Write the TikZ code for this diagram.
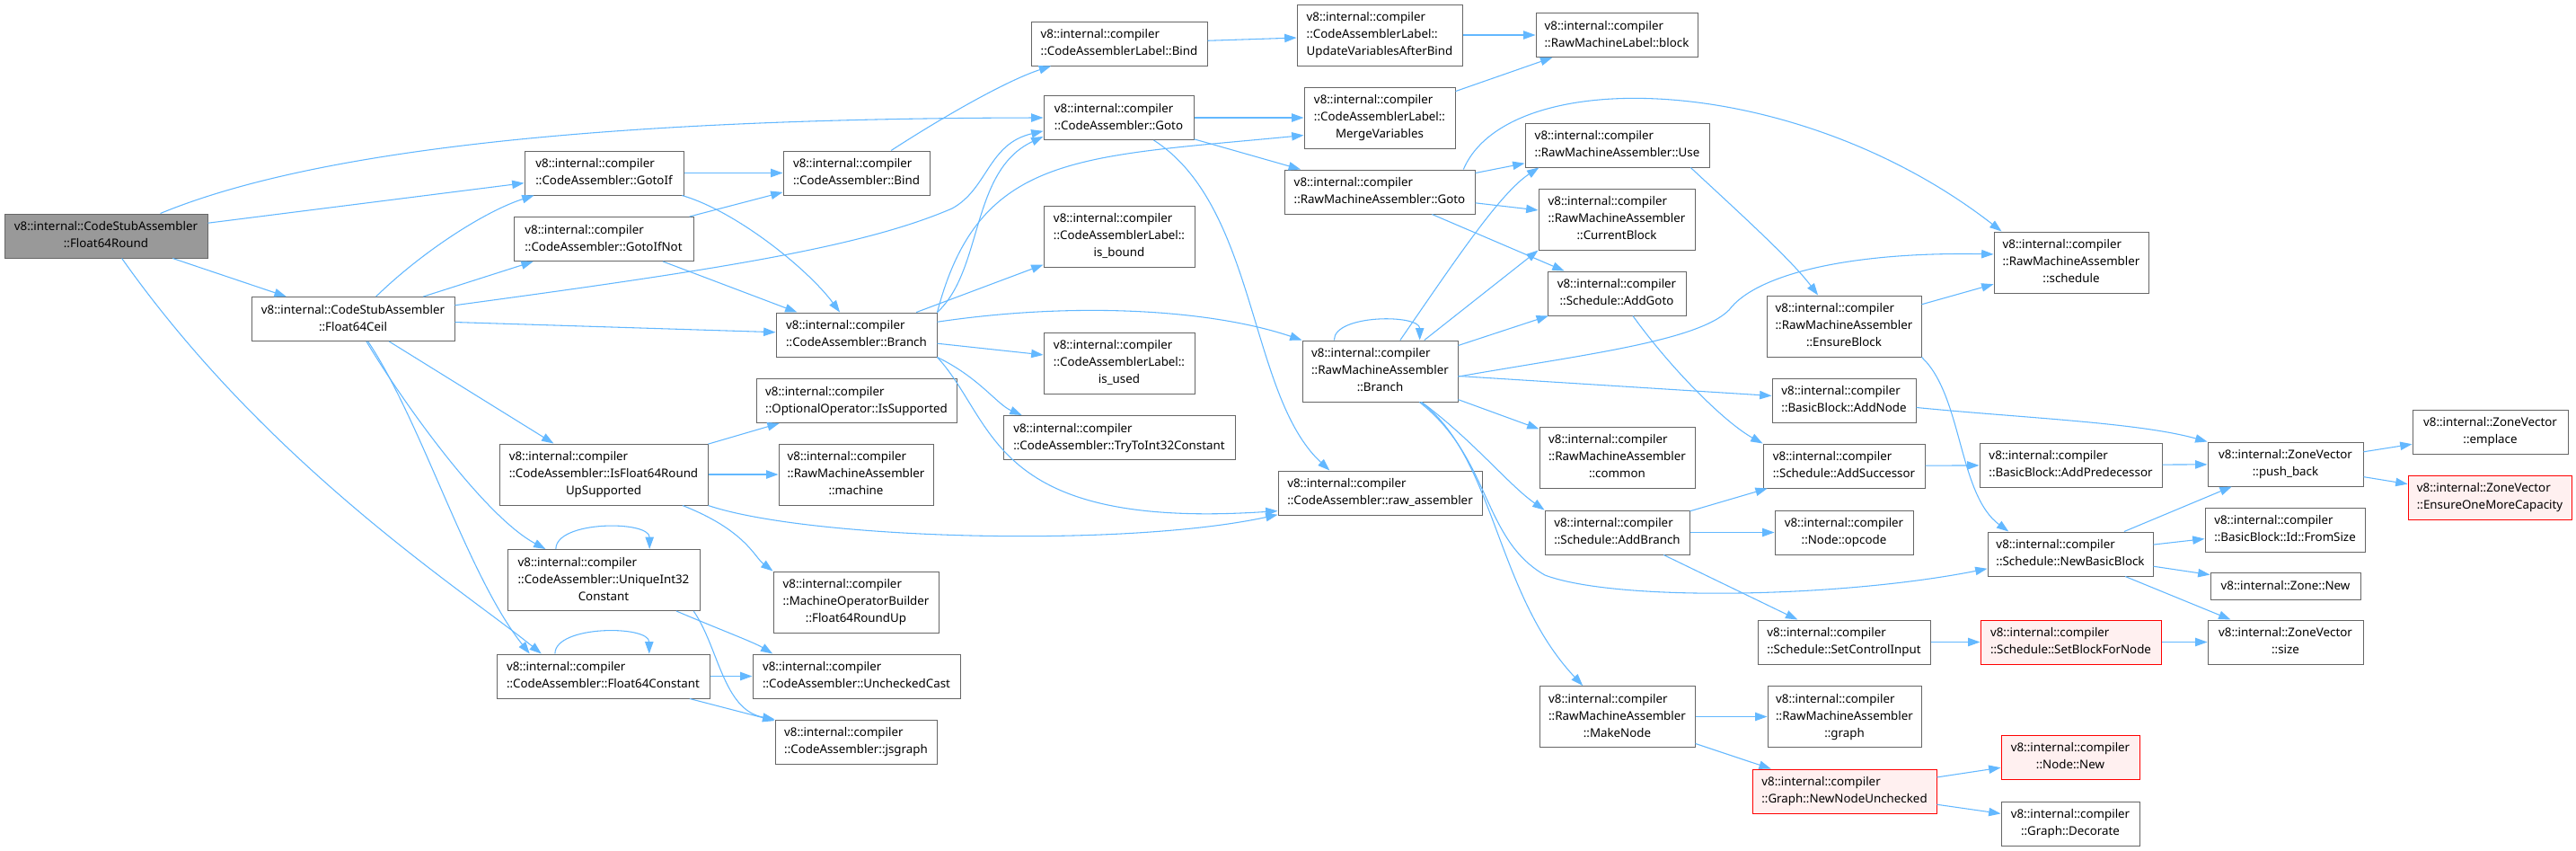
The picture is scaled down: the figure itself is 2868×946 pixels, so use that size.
\documentclass[tikz,border=0pt]{standalone}
\usepackage{fontspec}
\setmainfont{Noto Sans}
\usetikzlibrary{arrows.meta}

\definecolor{edgeblue}{HTML}{63B8FF}
\definecolor{boxgray}{HTML}{666666}
\definecolor{rootgray}{HTML}{999999}
\definecolor{alertpink}{HTML}{FFF0F0}

\newcommand{\fnlabel}[2]{\begin{tabular}{@{}l@{}}#1\\\multicolumn{1}{@{}c@{}}{#2}\end{tabular}}

\begin{document}
\begin{tikzpicture}[
        x=0.75pt, y=-0.75pt,
        font=\fontsize{10pt}{14.25pt}\selectfont,
        fn/.style={draw=boxgray, fill=white, line width=0.75pt, inner sep=3pt, minimum height=36.75pt},
        fnt/.style={fn, minimum height=51pt},
        root/.style={fn, fill=rootgray},
        alert/.style={fn, draw=red, fill=alertpink},
        call/.style={draw=edgeblue, line width=0.8pt, -{Triangle[length=10pt,width=7pt]}}
    ]
        \fill[white] (0,0) rectangle (2868,946);

        \node[root, minimum width=169.5pt] (round) at (118,262.5) {\fnlabel{v8::internal::CodeStubAssembler}{::Float64Round}};
        \node[fn, minimum width=169.5pt] (ceil) at (393,355) {\fnlabel{v8::internal::CodeStubAssembler}{::Float64Ceil}};

        \node[fn, minimum width=132.75pt] (gotoif) at (672.5,192.5) {\fnlabel{v8::internal::compiler}{::CodeAssembler::GotoIf}};
        \node[fn, minimum width=150pt] (gotoifnot) at (672,266) {\fnlabel{v8::internal::compiler}{::CodeAssembler::GotoIfNot}};
        \node[fnt, minimum width=174pt] (isfloat) at (672,528) {\fnlabel{v8::internal::compiler\\::CodeAssembler::IsFloat64Round}{UpSupported}};
        \node[fnt, minimum width=160.5pt] (uniqueint) at (672,645.5) {\fnlabel{v8::internal::compiler\\::CodeAssembler::UniqueInt32}{Constant}};
        \node[fn, minimum width=177.75pt] (f64const) at (671.5,752.5) {\fnlabel{v8::internal::compiler}{::CodeAssembler::Float64Constant}};

        \node[fn, minimum width=122.25pt] (cabind) at (953.5,192.5) {\fnlabel{v8::internal::compiler}{::CodeAssembler::Bind}};
        \node[fn, minimum width=134.25pt] (cabranch) at (953.5,372.5) {\fnlabel{v8::internal::compiler}{::CodeAssembler::Branch}};
        \node[fn, minimum width=167.25pt] (issupported) at (953.5,446) {\fnlabel{v8::internal::compiler}{::OptionalOperator::IsSupported}};
        \node[fnt, minimum width=129pt] (machine) at (953,528) {\fnlabel{v8::internal::compiler\\::RawMachineAssembler}{::machine}};
        \node[fnt, minimum width=138pt] (roundup) at (953,670) {\fnlabel{v8::internal::compiler\\::MachineOperatorBuilder}{::Float64RoundUp}};
        \node[fn, minimum width=173.25pt] (unchecked) at (953.5,752.5) {\fnlabel{v8::internal::compiler}{::CodeAssembler::UncheckedCast}};
        \node[fn, minimum width=135pt] (jsgraph) at (953,825.5) {\fnlabel{v8::internal::compiler}{::CodeAssembler::jsgraph}};

        \node[fn, minimum width=147pt] (lblbind) at (1246,48.5) {\fnlabel{v8::internal::compiler}{::CodeAssemblerLabel::Bind}};
        \node[fn, minimum width=125.25pt] (cagoto) at (1245.5,131) {\fnlabel{v8::internal::compiler}{::CodeAssembler::Goto}};
        \node[fnt, minimum width=126pt] (isbound) at (1246,263) {\fnlabel{v8::internal::compiler\\::CodeAssemblerLabel::}{is\_bound}};
        \node[fnt, minimum width=126pt] (isused) at (1246,404) {\fnlabel{v8::internal::compiler\\::CodeAssemblerLabel::}{is\_used}};
        \node[fn, minimum width=193.5pt] (tryint) at (1246,487) {\fnlabel{v8::internal::compiler}{::CodeAssembler::TryToInt32Constant}};

        \node[fnt, minimum width=138pt] (updvars) at (1536,39) {\fnlabel{v8::internal::compiler\\::CodeAssemblerLabel::}{UpdateVariablesAfterBind}};
        \node[fnt, minimum width=126pt] (mergevars) at (1536,131) {\fnlabel{v8::internal::compiler\\::CodeAssemblerLabel::}{MergeVariables}};
        \node[fn, minimum width=159pt] (rmagoto) at (1536,213.5) {\fnlabel{v8::internal::compiler}{::RawMachineAssembler::Goto}};
        \node[fnt, minimum width=129.75pt] (rmabranch) at (1536.5,413) {\fnlabel{v8::internal::compiler\\::RawMachineAssembler}{::Branch}};
        \node[fn, minimum width=170.25pt] (rawasm) at (1536.5,548.5) {\fnlabel{v8::internal::compiler}{::CodeAssembler::raw\_assembler}};

        \node[fn, minimum width=135pt] (rmlblock) at (1800,39) {\fnlabel{v8::internal::compiler}{::RawMachineLabel::block}};
        \node[fn, minimum width=153.75pt] (rmause) at (1800.5,161.5) {\fnlabel{v8::internal::compiler}{::RawMachineAssembler::Use}};
        \node[fnt, minimum width=130.5pt] (curblock) at (1800,244) {\fnlabel{v8::internal::compiler\\::RawMachineAssembler}{::CurrentBlock}};
        \node[fn, minimum width=115.5pt] (addgoto) at (1800,326.5) {\fnlabel{v8::internal::compiler}{::Schedule::AddGoto}};
        \node[fnt, minimum width=129.75pt] (common) at (1800.5,509) {\fnlabel{v8::internal::compiler\\::RawMachineAssembler}{::common}};
        \node[fn, minimum width=120.75pt] (addbranch) at (1800.5,592.5) {\fnlabel{v8::internal::compiler}{::Schedule::AddBranch}};
        \node[fnt, minimum width=129.75pt] (makenode) at (1800.5,797.5) {\fnlabel{v8::internal::compiler\\::RawMachineAssembler}{::MakeNode}};

        \node[fnt, minimum width=129pt] (ensureblock) at (2053,363) {\fnlabel{v8::internal::compiler\\::RawMachineAssembler}{::EnsureBlock}};
        \node[fn, minimum width=120pt] (addnode) at (2053,445.5) {\fnlabel{v8::internal::compiler}{::BasicBlock::AddNode}};
        \node[fn, minimum width=135pt] (addsucc) at (2053,518.5) {\fnlabel{v8::internal::compiler}{::Schedule::AddSuccessor}};
        \node[fn, minimum width=115.5pt] (opcode) at (2053,592.5) {\fnlabel{v8::internal::compiler}{::Node::opcode}};
        \node[fn, minimum width=144pt] (setctrl) at (2053,714.5) {\fnlabel{v8::internal::compiler}{::Schedule::SetControlInput}};
        \node[fnt, minimum width=128.25pt] (graph) at (2053.5,797.5) {\fnlabel{v8::internal::compiler\\::RawMachineAssembler}{::graph}};
        \node[alert, minimum width=153.75pt] (newnodeunch) at (2053.5,880.5) {\fnlabel{v8::internal::compiler}{::Graph::NewNodeUnchecked}};

        \node[fnt, minimum width=129pt] (schedule) at (2306,292) {\fnlabel{v8::internal::compiler\\::RawMachineAssembler}{::schedule}};
        \node[fn, minimum width=152.25pt] (addpred) at (2305.5,517.5) {\fnlabel{v8::internal::compiler}{::BasicBlock::AddPredecessor}};
        \node[fn, minimum width=138pt] (newbb) at (2305,616.5) {\fnlabel{v8::internal::compiler}{::Schedule::NewBasicBlock}};
        \node[alert, minimum width=150.75pt] (setblock) at (2305.5,714.5) {\fnlabel{v8::internal::compiler}{::Schedule::SetBlockForNode}};
        \node[alert, minimum width=115.5pt] (nodenew) at (2305,842.5) {\fnlabel{v8::internal::compiler}{::Node::New}};
        \node[fn, minimum width=115.5pt] (decorate) at (2305,916.5) {\fnlabel{v8::internal::compiler}{::Graph::Decorate}};

        \node[fn, minimum width=129.75pt] (pushback) at (2544.5,516.5) {\fnlabel{v8::internal::ZoneVector}{::push\_back}};
        \node[fn, minimum width=133.5pt] (fromsize) at (2544,589.5) {\fnlabel{v8::internal::compiler}{::BasicBlock::Id::FromSize}};
        \node[fn, minimum width=125.25pt, minimum height=22.5pt] (zonenew) at (2544.5,652) {v8::internal::Zone::New};
        \node[fn, minimum width=129.75pt] (zvsize) at (2544.5,714.5) {\fnlabel{v8::internal::ZoneVector}{::size}};

        \node[fn, minimum width=129.75pt] (emplace) at (2772.5,480.5) {\fnlabel{v8::internal::ZoneVector}{::emplace}};
        \node[alert, minimum width=136.5pt] (ensurecap) at (2772,553.5) {\fnlabel{v8::internal::ZoneVector}{::EnsureOneMoreCapacity}};

        \draw[call] (round) .. controls (330,175) and (620,132) .. (cagoto.west);
        \draw[call] (round) -- (gotoif);
        \draw[call] (round) -- (ceil);
        \draw[call] (round) .. controls (300,520) and (520,660) .. (f64const.160);

        \draw[call] (ceil) .. controls (470,280) and (540,235) .. (gotoif);
        \draw[call] (ceil) -- (gotoifnot);
        \draw[call] (ceil) .. controls (800,300) and (960,275) .. (1060,232) .. controls (1100,210) and (1100,160) .. (cagoto.190);
        \draw[call] (ceil) -- (cabranch);
        \draw[call] (ceil) -- (isfloat);
        \draw[call] (ceil) .. controls (450,450) and (540,575) .. (uniqueint);
        \draw[call] (ceil) .. controls (470,470) and (520,640) .. (f64const.163);

        \draw[call] (gotoif) -- (cabind);
        \draw[call] (gotoif) .. controls (820,235) and (900,300) .. (cabranch);
        \draw[call] (gotoifnot) -- (cabind);
        \draw[call] (gotoifnot) -- (cabranch);

        \draw[call] (cabind) .. controls (1050,130) and (1120,90) .. (lblbind);
        \draw[call] (lblbind) -- (updvars);
        \draw[call] (updvars) -- (rmlblock);
        \draw[call] (mergevars) -- (rmlblock);

        \draw[call] (cagoto) -- (mergevars);
        \draw[call] (cagoto) -- (rmagoto);
        \draw[call] (cagoto) .. controls (1400,230) and (1390,440) .. (rawasm.156);

        \draw[call] (cabranch.north east) .. controls (1095,300) and (1080,190) .. (cagoto.194);
        \draw[call] (cabranch.north east) .. controls (1090,170) and (1200,175) .. (mergevars.193);
        \draw[call] (cabranch) -- (isbound);
        \draw[call] (cabranch) -- (isused);
        \draw[call] (cabranch.south east) .. controls (1090,420) and (1110,450) .. (tryint.167);
        \draw[call] (cabranch.9) .. controls (1200,335) and (1350,345) .. (rmabranch.north west);
        \draw[call] (cabranch.south east) .. controls (1110,470) and (1100,590) .. (rawasm.190);

        \draw[call] (isfloat) -- (issupported);
        \draw[call] (isfloat) -- (machine);
        \draw[call] (isfloat.south east) .. controls (900,600) and (1250,610) .. (rawasm.192);
        \draw[call] (isfloat) .. controls (830,590) and (840,620) .. (roundup.north west);

        \draw[call] (uniqueint.147) .. controls +(0,-32) and +(0,-32) .. (uniqueint.34);
        \draw[call] (uniqueint) .. controls (800,700) and (840,715) .. (unchecked.165);
        \draw[call] (uniqueint.-19) .. controls (800,720) and (805,790) .. (jsgraph.north west);

        \draw[call] (f64const.155) .. controls +(0,-32) and +(0,-32) .. (f64const.26);
        \draw[call] (f64const) -- (unchecked);
        \draw[call] (f64const) -- (jsgraph);

        \draw[call] (rmagoto) -- (rmause);
        \draw[call] (rmagoto) -- (curblock);
        \draw[call] (rmagoto) -- (addgoto);
        \draw[call] (rmagoto.15) .. controls (1680,70) and (2000,80) .. (schedule.156);

        \draw[call] (rmabranch.146) .. controls +(0,-29) and +(0,-29) .. (rmabranch.38);
        \draw[call] (rmabranch.57) .. controls (1620,290) and (1670,215) .. (rmause.196);
        \draw[call] (rmabranch.35) -- (curblock.south west);
        \draw[call] (rmabranch) -- (addgoto);
        \draw[call] (rmabranch.-4) .. controls (1760,395) and (1890,380) .. (1925,345) .. controls (1955,305) and (2060,280) .. (schedule.174);
        \draw[call] (rmabranch) -- (addnode);
        \draw[call] (rmabranch) -- (common);
        \draw[call] (rmabranch) .. controls (1640,490) and (1680,540) .. (addbranch.north west);
        \draw[call] (rmabranch) .. controls (1665,510) and (1665,660) .. (makenode.138);
        \draw[call] (rmabranch) .. controls (1660,510) and (1650,600) .. (1720,640) .. controls (1800,670) and (2050,665) .. (newbb.190);

        \draw[call] (rmause.-17) .. controls (1940,240) and (1995,290) .. (ensureblock.130);
        \draw[call] (addgoto) .. controls (1860,410) and (1920,470) .. (addsucc.north west);
        \draw[call] (ensureblock) -- (schedule);
        \draw[call] (ensureblock.south east) .. controls (2185,440) and (2180,550) .. (newbb.160);
        \draw[call] (addnode) .. controls (2250,465) and (2380,470) .. (pushback.north west);

        \draw[call] (addsucc) -- (addpred);
        \draw[call] (addpred) -- (pushback);
        \draw[call] (pushback) -- (emplace);
        \draw[call] (pushback) -- (ensurecap);

        \draw[call] (addbranch) -- (addsucc);
        \draw[call] (addbranch) -- (opcode);
        \draw[call] (addbranch) -- (setctrl);

        \draw[call] (newbb) -- (pushback);
        \draw[call] (newbb) -- (fromsize);
        \draw[call] (newbb) -- (zonenew);
        \draw[call] (newbb) -- (zvsize);
        \draw[call] (setctrl) -- (setblock);
        \draw[call] (setblock) -- (zvsize);

        \draw[call] (makenode) -- (graph);
        \draw[call] (makenode.-19) -- (newnodeunch.163);
        \draw[call] (newnodeunch) -- (nodenew);
        \draw[call] (newnodeunch) -- (decorate);
    \end{tikzpicture}
\end{document}
